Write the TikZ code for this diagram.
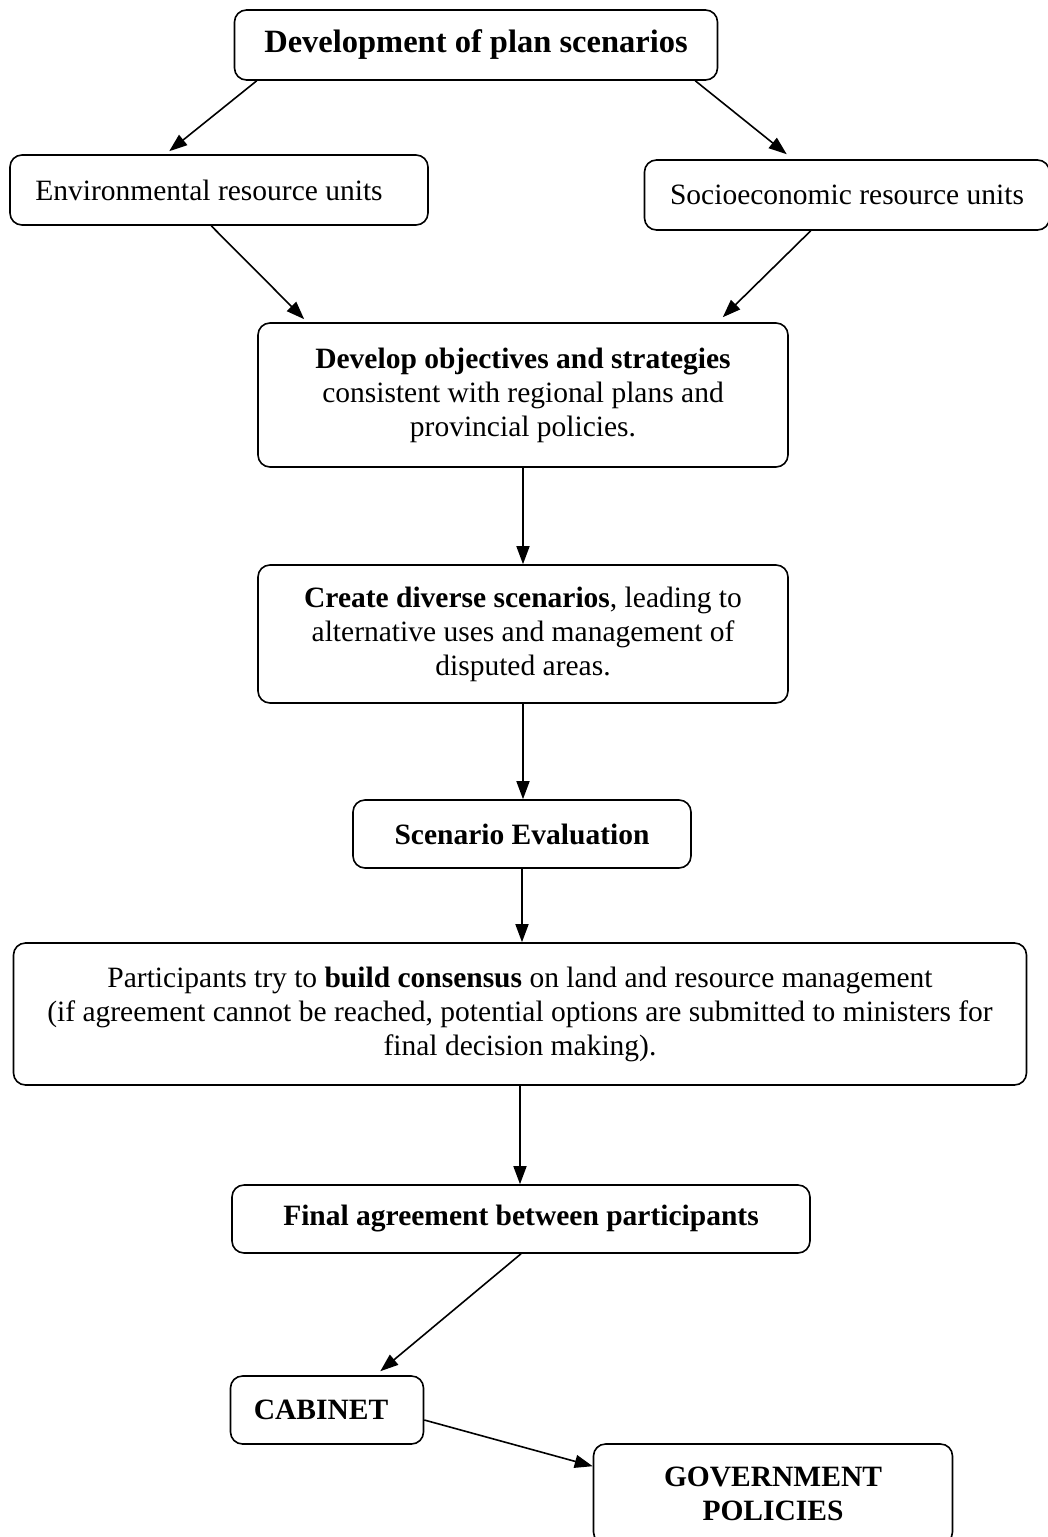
\documentclass[tikz,border=0pt]{standalone}
\usepackage{fontspec}
\setmainfont{Liberation Serif}
\usetikzlibrary{arrows.meta, positioning}

\tikzset{
  stage/.style={draw, rounded corners=12pt, line width=1.6pt, inner sep=0pt,
                font=\fontsize{29.5}{34}\selectfont, align=center},
  flow/.style={-{Triangle[length=18pt,width=13pt]}, line width=1.6pt},
}

\begin{document}
\begin{tikzpicture}[x=1pt, y=-1pt]
  \useasboundingbox (0,0) rectangle (1048,1537);
  \clip (0,0) rectangle (1048,1537);
  % boxes
  \node[stage, minimum width=483pt, minimum height=70pt,
        font=\fontsize{32.5}{36}\selectfont\bfseries] (plan) at (476,45) {Development of plan scenarios};
  \node[stage, minimum width=418pt, minimum height=70pt] (env) at (219,190) {Environmental resource units\hspace*{20pt}};
  \node[stage, minimum width=405pt, minimum height=70pt] (socio) at (847,195) {Socioeconomic resource units};
  \node[stage, minimum width=530pt, minimum height=144pt] (obj) at (523,395)
        {\textbf{Develop objectives and strategies}\\ consistent with regional plans and\\ provincial policies.};
  \node[stage, minimum width=530pt, minimum height=138pt] (create) at (523,634)
        {\textbf{Create diverse scenarios}, leading to\\ alternative uses and management of\\ disputed areas.};
  \node[stage, minimum width=338pt, minimum height=68pt] (eval) at (522,834) {\textbf{Scenario Evaluation}};
  \node[stage, minimum width=1013pt, minimum height=142pt] (cons) at (520,1014)
        {Participants try to \textbf{build consensus} on land and resource management\\
         (if agreement cannot be reached, potential options are submitted to ministers for\\
         final decision making).};
  \node[stage, minimum width=578pt, minimum height=68pt] (final) at (521,1219) {\textbf{Final agreement between participants}};
  \node[stage, minimum width=193pt, minimum height=68pt] (cab) at (327,1410) {\textbf{CABINET}\hspace*{12pt}};
  \node[stage, minimum width=359pt, minimum height=100pt] (gov) at (773,1494) {\textbf{GOVERNMENT}\\ \textbf{POLICIES}};
  % connectors
  \draw[flow] ([xshift=23pt]plan.south west) -- ([xshift=160pt,yshift=3pt]env.north west);
  \draw[flow] ([xshift=-23pt]plan.south east) -- ([xshift=143pt,yshift=5pt]socio.north west);
  \draw[flow] ([xshift=202pt]env.south west) -- ([xshift=47pt,yshift=3pt]obj.north west);
  \draw[flow] ([xshift=167pt]socio.south west) -- ([xshift=-66pt,yshift=5pt]obj.north east);
  \draw[flow] (obj.south) -- (create.north);
  \draw[flow] (create.south) -- (create.south |- eval.north);
  \draw[flow] (eval.south) -- (eval.south |- cons.north);
  \draw[flow] (cons.south) -- (cons.south |- final.north);
  \draw[flow] (final.south) -- ([xshift=-44pt,yshift=4pt]cab.north east);
  \draw[flow] ([yshift=-10pt]cab.east) -- ([yshift=-23pt]gov.north west);
\end{tikzpicture}
\end{document}
